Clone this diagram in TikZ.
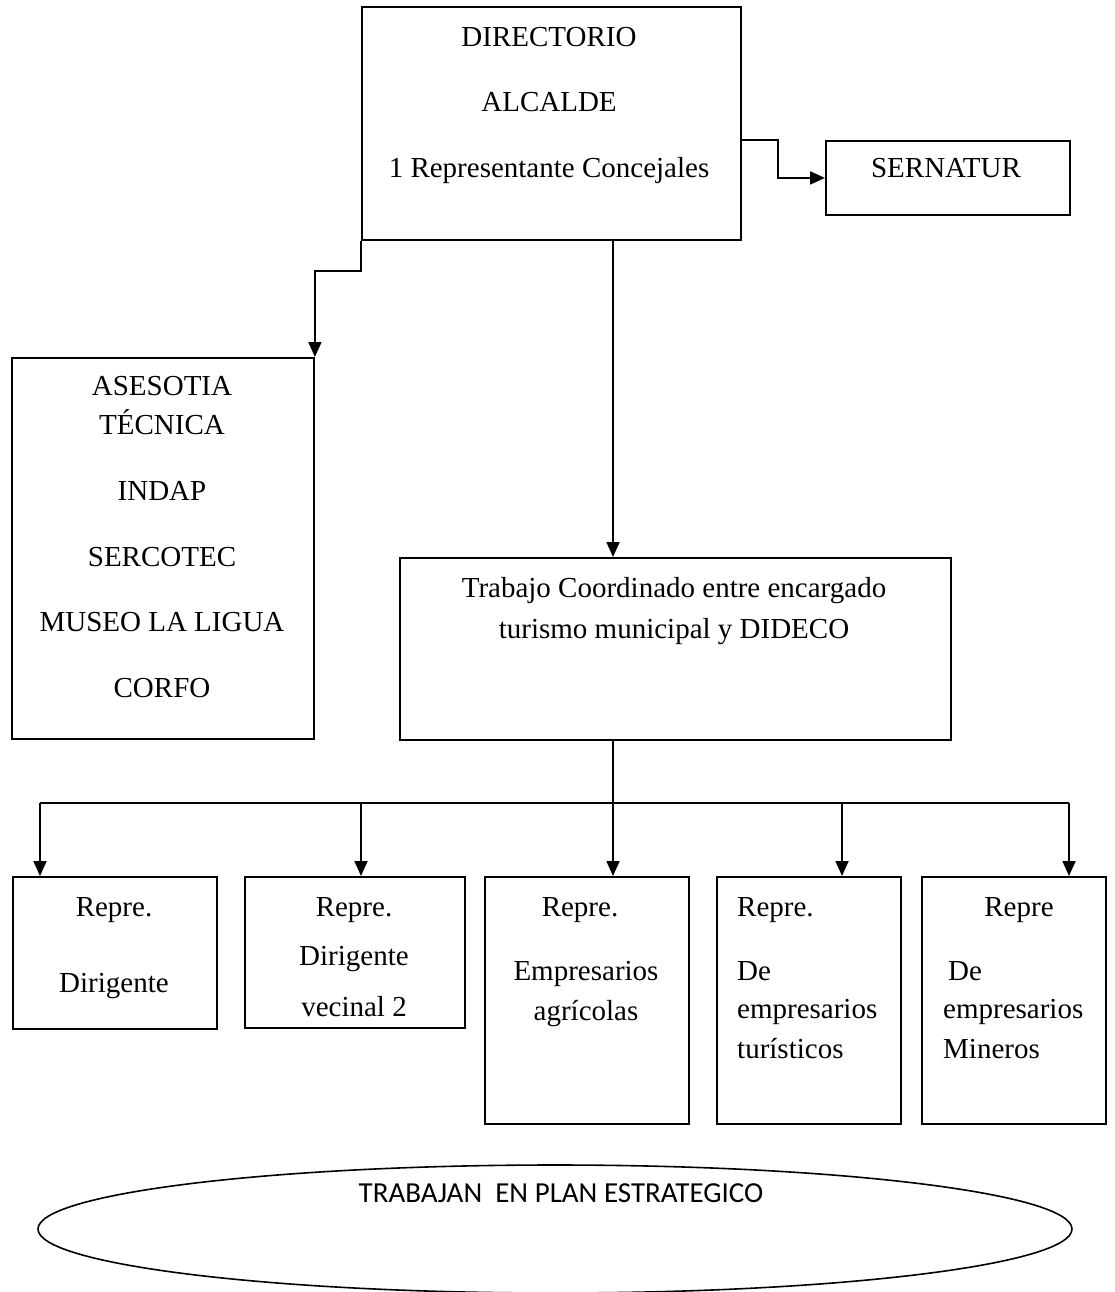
\documentclass[tikz,border=0pt]{standalone}
\usepackage{fontspec}
\setmainfont{Liberation Serif}
\newfontfamily\calib{Carlito}
\usetikzlibrary{arrows.meta,shapes.geometric}
\begin{document}
\begin{tikzpicture}[x=1pt,y=-1pt,
  box/.style={draw,line width=1.9pt,rectangle,inner sep=0pt,anchor=north west},
  txt/.style={anchor=base,inner sep=0pt,font=\fontsize{29}{34}\selectfont},
  txtl/.style={anchor=base west,inner sep=0pt,font=\fontsize{29}{34}\selectfont},
  con/.style={line width=1.8pt},
  arr/.style={con,-{Triangle[length=15pt,width=13pt]}}]
\useasboundingbox (0,0) rectangle (1115,1292);
% boxes
\node[box,minimum width=379pt,minimum height=233pt] (dir) at (361,6) {};
\node[box,minimum width=244pt,minimum height=74pt] (ser) at (825,140) {};
\node[box,minimum width=302pt,minimum height=381pt] (ase) at (11,357) {};
\node[box,minimum width=551pt,minimum height=182pt] (tra) at (399,557) {};
\node[box,minimum width=204pt,minimum height=152pt] (b1) at (12,876) {};
\node[box,minimum width=220pt,minimum height=151pt] (b2) at (244,876) {};
\node[box,minimum width=204pt,minimum height=247pt] (b3) at (484,876) {};
\node[box,minimum width=184pt,minimum height=247pt] (b4) at (716,876) {};
\node[box,minimum width=184pt,minimum height=247pt] (b5) at (921,876) {};
\node[draw,line width=1.6pt,ellipse,minimum width=1034pt,minimum height=128pt,inner sep=0pt] (ell) at (555,1229) {};
% texts
\node[txt] (t1) at (549,47) {DIRECTORIO};
\node[txt] (t2) at (549,112) {ALCALDE};
\node[txt] (t3) at (549,178) {1 Representante Concejales};
\node[txt] (t4) at (946,178) {SERNATUR};
\node[txt] (a1) at (162,395) {ASESOTIA};
\node[txt] (a2) at (162,434) {TÉCNICA};
\node[txt] (a3) at (162,500) {INDAP};
\node[txt] (a4) at (162,566) {SERCOTEC};
\node[txt] (a5) at (162,631) {MUSEO LA LIGUA};
\node[txt] (a6) at (162,697) {CORFO};
\node[txt] (r1) at (674,597) {Trabajo Coordinado entre encargado};
\node[txt] (r2) at (674,638) {turismo municipal y DIDECO};
\node[txt] (p11) at (114,916) {Repre.};
\node[txt] (p12) at (114,992) {Dirigente};
\node[txt] (p21) at (354,916) {Repre.};
\node[txt] (p22) at (354,965) {Dirigente};
\node[txt] (p23) at (354,1016) {vecinal 2};
\node[txt] (p31) at (580,916) {Repre.};
\node[txt] (p32) at (586,980) {Empresarios};
\node[txt] (p33) at (586,1020) {agrícolas};
\node[txtl] (p41) at (737,916) {Repre.};
\node[txtl] (p42) at (737,980) {De};
\node[txtl] (p43) at (737,1018) {empresarios};
\node[txtl] (p44) at (737,1058) {turísticos};
\node[txt] (p51) at (1019,916) {Repre};
\node[txtl] (p52) at (948,980) {De};
\node[txtl] (p53) at (943,1018) {empresarios};
\node[txtl] (p54) at (943,1058) {Mineros};
\node[txt,font=\calib\fontsize{29}{34}\selectfont] (et) at (561,1202) {TRABAJAN\ \ EN PLAN ESTRATEGICO};
% helper coordinates
\coordinate (mx) at (613,0);
\coordinate (sx) at (778,0);
\coordinate (bus) at (0,803);
\coordinate (x1) at (40,0);
\coordinate (x2) at (361,0);
\coordinate (x4) at (842,0);
\coordinate (x5) at (1069,0);
% connectors
\draw[arr] (dir.north east |- ser.north) -| (sx |- ser.west) -- (ser.west);
\draw[arr] (dir.south west) -- ++(0,30) -| (ase.north east);
\draw[arr] (dir.south -| mx) -- (tra.north -| mx);
\draw[con] (tra.south -| mx) -- (mx |- bus);
\draw[con] (x1 |- bus) -- (x5 |- bus);
\draw[arr] (x1 |- bus) -- (x1 |- b1.north);
\draw[arr] (x2 |- bus) -- (x2 |- b2.north);
\draw[arr] (mx |- bus) -- (mx |- b3.north);
\draw[arr] (x4 |- bus) -- (x4 |- b4.north);
\draw[arr] (x5 |- bus) -- (x5 |- b5.north);
\end{tikzpicture}
\end{document}
